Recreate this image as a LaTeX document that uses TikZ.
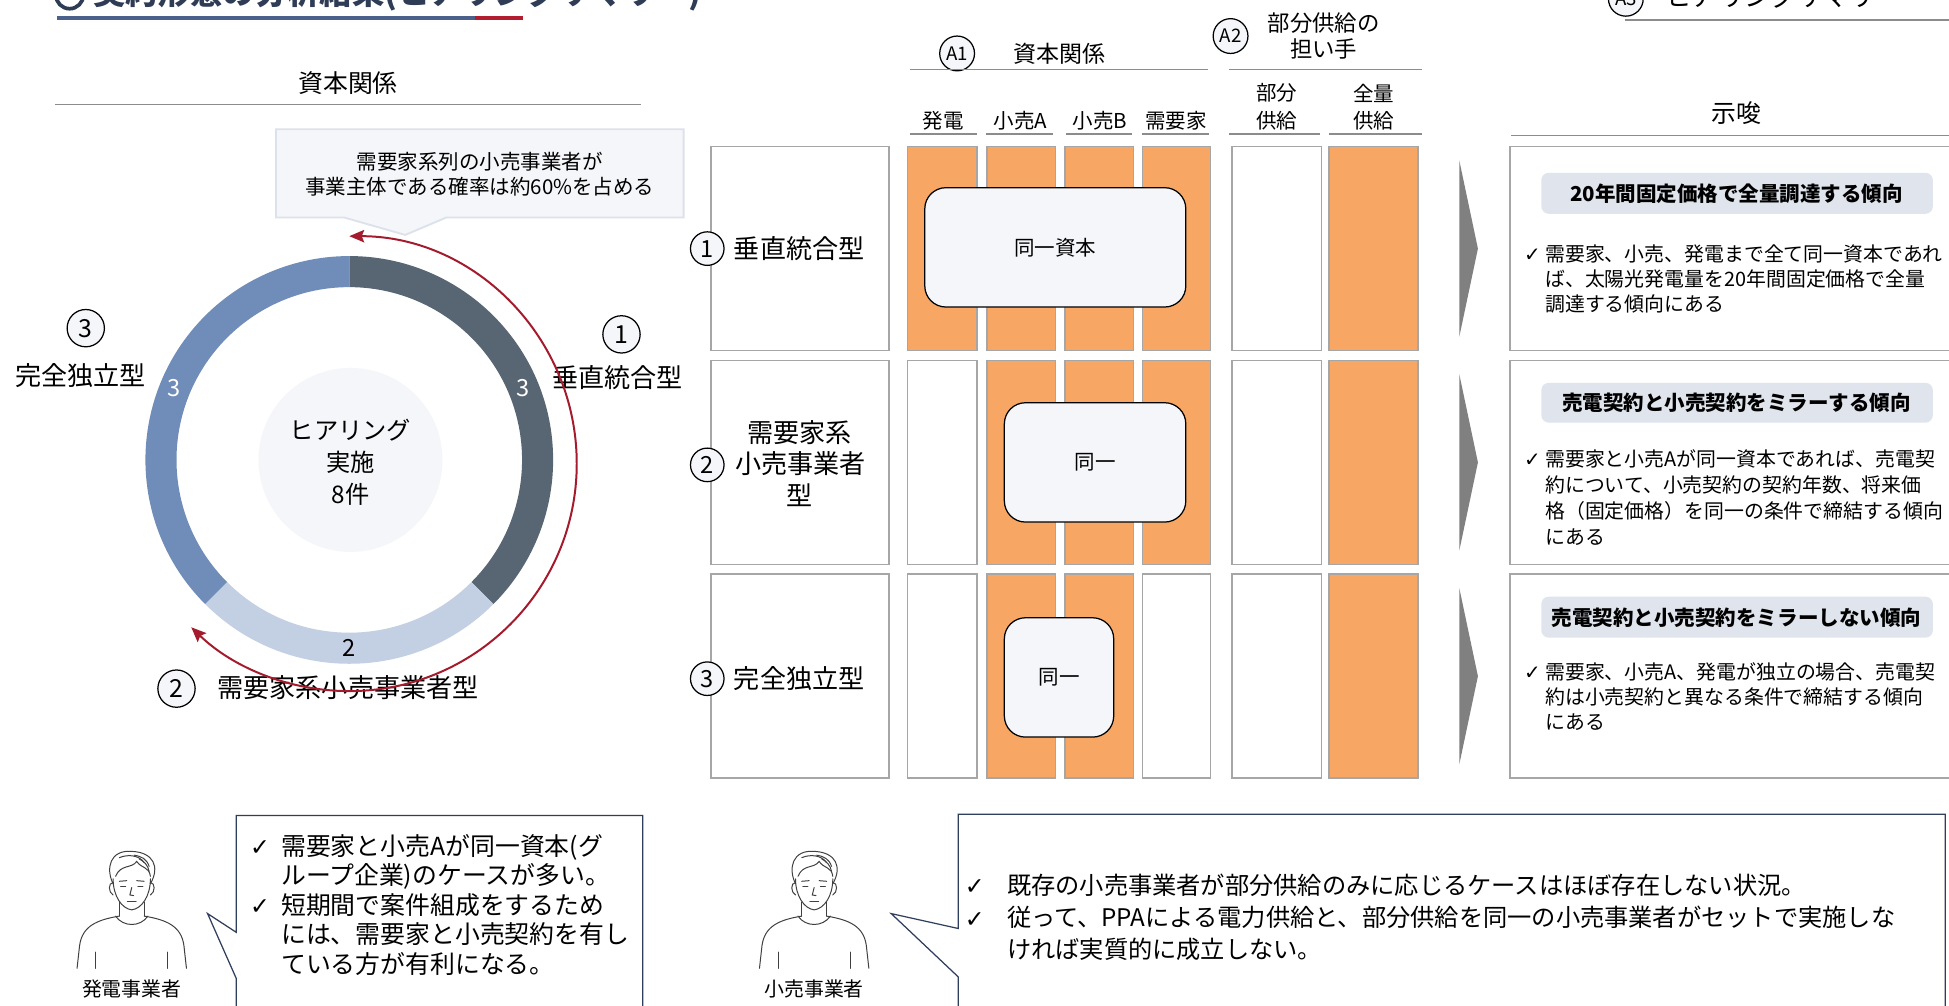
\documentclass[tikz,border=0pt]{standalone}
\usepackage{fontspec}
\setmainfont{Noto Sans CJK JP}
\newfontfamily\symfont{DejaVu Sans}
\usetikzlibrary{arrows.meta}

\definecolor{cOrange}{HTML}{F7A763}
\definecolor{cCellLine}{HTML}{A6A6A6}
\definecolor{cRule}{HTML}{8C8C8C}
\definecolor{cDark}{HTML}{586573}
\definecolor{cLight}{HTML}{C3CFE2}
\definecolor{cBlue}{HTML}{6F8DB8}
\definecolor{cRed}{HTML}{A31B2C}
\definecolor{cPale}{HTML}{F5F6F9}
\definecolor{cPaleEdge}{HTML}{DCE2EC}
\definecolor{cPill}{HTML}{DFE4ED}
\definecolor{cChev}{HTML}{808080}
\definecolor{cNavy}{HTML}{2F3E5C}
\definecolor{cTitle}{HTML}{2F3C56}
\definecolor{cTitleBlue}{HTML}{4B6189}
\definecolor{cTitleRed}{HTML}{B21E2F}

\newcommand\fsz[1]{\fontsize{#1}{#1}\selectfont}

\tikzset{
  cell/.style={draw=cCellLine, line width=1.3pt},
  rulel/.style={draw=cRule, line width=1.3pt},
  numc/.style={circle, draw=black, line width=1pt, fill=cPale, minimum size=30pt,
    inner sep=0pt, font=\fsz{20}},
  smallnum/.style={numc, minimum size=28pt, font=\fsz{15}},
  hdr/.style={inner sep=0pt, font=\fsz{18.5}},
  colhdr/.style={inner sep=0pt, font=\fsz{16.5}},
  rowlbl/.style={inner sep=0pt, font=\fsz{21}},
  samebox/.style={draw=black, line width=1pt, fill=cPale, rounded corners=17pt},
  pill/.style={fill=cPill, rounded corners=6pt},
  pilltext/.style={inner sep=0pt, font=\fsz{16.5}\bfseries},
  bodyline/.style={anchor=base west, inner sep=0pt, font=\fsz{16}},
  checkmk/.style={anchor=base west, inner sep=0pt, font=\symfont\fsz{16}},
  bubline/.style={anchor=base west, inner sep=0pt, font=\fsz{20}},
  bubcheck/.style={anchor=base west, inner sep=0pt, font=\symfont\fsz{19}},
  bubble/.style={draw=cNavy, line width=1pt, fill=white, line join=miter},
  chev/.style={fill=cChev},
  redarc/.style={cRed, line width=1.6pt,
    {Stealth[length=12pt, width=10pt, inset=2pt]}-{Stealth[length=12pt, width=10pt, inset=2pt]}}
}

% simple line-art figure; #1 = centre x, #2 = top of the head (y downwards)
\newcommand\drawperson[2]{%
\begin{scope}[shift={(#1,-#2)}, draw=black!75, line width=0.8pt, line cap=round]
  % face
  \draw (-15,-22) .. controls (-15,-36) and (-8,-46) .. (0,-47) .. controls (8,-46) and (15,-36) .. (15,-22);
  % hair
  \draw (-15,-26) .. controls (-21,-14) and (-18,2) .. (1,0) .. controls (17,-1) and (23,-12) .. (15,-26);
  \draw (-13,-20) .. controls (-9,-10) and (0,-14) .. (4,-8) .. controls (8,-14) and (14,-12) .. (15,-20);
  \draw (-10,-5) .. controls (-3,-2) and (6,-3) .. (10,-9);
  \draw (2,-3) .. controls (8,-4) and (12,-6) .. (14,-12);
  \draw (6,-6) .. controls (10,-8) and (13,-11) .. (14,-16);
  % ears
  \draw (-15,-25) .. controls (-19,-25) and (-19,-33) .. (-15,-35);
  \draw (15,-25) .. controls (19,-25) and (19,-33) .. (15,-35);
  % brows, eyes, nose, mouth
  \draw (-10,-24) -- (-4,-23.5);
  \draw (4,-23.5) -- (10,-24);
  \draw (-9,-28) -- (-5,-28);
  \draw (5,-28) -- (9,-28);
  \draw (0,-29) -- (-1.5,-35) -- (1.5,-35.5);
  \draw (-3.5,-40) -- (3.5,-40);
  % neck and collar
  \draw (-10,-41) -- (-10,-52);
  \draw (10,-41) -- (10,-52);
  \draw (-13,-52) .. controls (-7,-61) and (7,-61) .. (13,-52);
  % shoulders and arms
  \draw (-10,-52) .. controls (-28,-55) and (-40,-60) .. (-42,-76) -- (-44,-94);
  \draw (10,-52) .. controls (28,-55) and (40,-60) .. (42,-76) -- (44,-94);
  \draw (-29,-81) -- (-29,-94);
  \draw (29,-81) -- (29,-94);
\end{scope}}

\begin{document}
\begin{tikzpicture}[x=1pt, y=1pt]
\clip (0,0) rectangle (1568,-809);
\fill[white] (0,0) rectangle (1568,-809);

% ---------- page title (runs off the top edge) ----------
\draw[cTitle, line width=3pt] (56,4) circle[radius=11pt];
\node[anchor=base west, inner sep=0pt, text=cTitle, font=\fsz{26}\bfseries] (title) at (75,-3.5)
  {契約形態の分析結果(ヒアリングサマリー)};
\fill[cTitleBlue] (46,-12.5) rectangle (382,-16);
\fill[cTitleRed] (382,-12.5) rectangle (421,-16);

\draw[rulel] (1307,-16) -- (1568,-16);
\node[smallnum] (a3) at (1308,1) {A3};
\node[anchor=base west, inner sep=0pt, font=\fsz{21}] (a3txt) at (1340,-5) {ヒアリングサマリー};

% ---------- left: capital relations donut ----------
\node[inner sep=0pt, font=\fsz{20}] (capL) at (280,-67) {資本関係};
\draw[rulel] (44,-84) -- (516,-84);

\draw[draw=cPaleEdge, fill=cPale, line width=1.5pt, line join=miter]
  (222,-104) -- (550,-104) -- (550,-175) -- (359,-175) -- (326,-189) -- (277,-175) -- (222,-175) -- cycle;
\node[align=center, inner sep=0pt, font=\fontsize{16.5}{20}\selectfont] (callout) at (386,-140)
  {需要家系列の小売事業者が\\事業主体である確率は約60\%を占める};

\begin{scope}[shift={(281,-370)}]
  \fill[cDark] (90:164) arc[start angle=90, end angle=-45, radius=164pt]
    -- (-45:139) arc[start angle=-45, end angle=90, radius=139pt] -- cycle;
  \fill[cLight] (-45:164) arc[start angle=-45, end angle=-135, radius=164pt]
    -- (-135:139) arc[start angle=-135, end angle=-45, radius=139pt] -- cycle;
  \fill[cBlue] (-135:164) arc[start angle=-135, end angle=-270, radius=164pt]
    -- (90:139) arc[start angle=90, end angle=225, radius=139pt] -- cycle;
  \fill[cPale] (1,0) circle[radius=74pt];
\end{scope}
\node[align=center, inner sep=0pt, font=\fontsize{19.5}{25.5}\selectfont] (centre) at (282,-372)
  {ヒアリング\\実施\\8件};
\node[inner sep=0pt, text=white, font=\fsz{19}] (segA) at (421,-312) {3};
\node[inner sep=0pt, text=white, font=\fsz{19}] (segC) at (140,-312) {3};
\node[inner sep=0pt, font=\fsz{19}] (segB) at (281,-521) {2};

\node[numc] (d1) at (500,-269) {1};
\node[rowlbl] (d1t) at (497,-304) {垂直統合型};
\node[numc] (d3) at (69,-264) {3};
\node[rowlbl] (d3t) at (65,-302) {完全独立型};
\node[numc] (d2) at (142,-554) {2};
\node[rowlbl] (d2t) at (280,-553) {需要家系小売事業者型};

\begin{scope}[shift={(281,-373)}]
  \draw[redarc] (90:183) arc[start angle=90, end angle=-134, radius=183pt];
\end{scope}

% ---------- centre: matrix ----------
\node[smallnum] (A1) at (770,-43) {A1};
\node[hdr] (A1t) at (852,-43) {資本関係};
\draw[rulel] (732,-56) -- (972,-56);
\node[smallnum] (A2) at (990,-29) {A2};
\node[align=center, inner sep=0pt, font=\fontsize{18}{21}\selectfont] (A2t) at (1065,-29) {部分供給の\\担い手};
\draw[rulel] (989,-56) -- (1144,-56);

\node[colhdr] (h1) at (759,-97) {発電};
\node[colhdr] (h2) at (821,-97) {小売A};
\node[colhdr] (h3) at (885,-97) {小売B};
\node[colhdr] (h4) at (946,-97) {需要家};
\node[align=center, inner sep=0pt, font=\fontsize{16.5}{22}\selectfont] (h5) at (1027,-86) {部分\\供給};
\node[align=center, inner sep=0pt, font=\fontsize{16.5}{22}\selectfont] (h6) at (1105,-86) {全量\\供給};
\foreach \xa/\xb in {732/786, 793/847, 858/911, 919/973, 989/1062, 1069/1144}
  \draw[rulel] (\xa,-108) -- (\xb,-108);

% row frames
\foreach \ya/\yb in {118/282, 290/454, 462/626} {
  \draw[cell, fill=white] (572,-\ya) rectangle (715,-\yb);
  \draw[cell, fill=white] (1215,-\ya) rectangle (1580,-\yb);
  \fill[chev] (1174,-\ya-11) -- (1189,-\ya/2-\yb/2) -- (1174,-\yb+11) -- cycle;
}
% matrix cells: row 1
\foreach \xa/\xb/\fc in {730/786/cOrange, 794/849/cOrange, 857/912/cOrange, 919/974/cOrange, 991/1063/white, 1069/1141/cOrange}
  \draw[cell, fill=\fc] (\xa,-118) rectangle (\xb,-282);
% row 2
\foreach \xa/\xb/\fc in {730/786/white, 794/849/cOrange, 857/912/cOrange, 919/974/cOrange, 991/1063/white, 1069/1141/cOrange}
  \draw[cell, fill=\fc] (\xa,-290) rectangle (\xb,-454);
% row 3
\foreach \xa/\xb/\fc in {730/786/white, 794/849/cOrange, 857/912/cOrange, 919/974/white, 991/1063/white, 1069/1141/cOrange}
  \draw[cell, fill=\fc] (\xa,-462) rectangle (\xb,-626);

\draw[samebox] (744,-151) rectangle (954,-247);
\node[inner sep=0pt, font=\fsz{16.5}] (same1) at (849,-199) {同一資本};
\draw[samebox] (808,-324) rectangle (954,-420);
\node[inner sep=0pt, font=\fsz{16.5}] (same2) at (881,-372) {同一};
\draw[samebox] (808,-497) rectangle (896,-593);
\node[inner sep=0pt, font=\fsz{16.5}] (same3) at (852,-545) {同一};

% row labels
\node[rowlbl] (r1t) at (643,-200) {垂直統合型};
\node[numc, minimum size=27pt, font=\fsz{19}] (r1n) at (569,-200) {1};
\node[rowlbl] (r2a) at (643,-348) {需要家系};
\node[rowlbl] (r2b) at (644,-373) {小売事業者};
\node[rowlbl] (r2c) at (643,-398) {型};
\node[numc, minimum size=27pt, font=\fsz{19}] (r2n) at (569,-374) {2};
\node[rowlbl] (r3t) at (643,-546) {完全独立型};
\node[numc, minimum size=27pt, font=\fsz{19}] (r3n) at (569,-546) {3};

% ---------- right: implications ----------
\node[inner sep=0pt, font=\fsz{20}] (impl) at (1397,-91) {示唆};
\draw[rulel] (1216,-109) -- (1568,-109);

\fill[pill] (1240,-139) rectangle (1555,-172);
\node[pilltext] (p1) at (1397,-156) {20年間固定価格で全量調達する傾向};
\fill[pill] (1240,-308) rectangle (1555,-340);
\node[pilltext] (p2) at (1397,-324) {売電契約と小売契約をミラーする傾向};
\fill[pill] (1240,-480) rectangle (1555,-513);
\node[pilltext] (p3) at (1397,-497) {売電契約と小売契約をミラーしない傾向};

\node[checkmk] (c1) at (1226,-210) {✓};
\foreach \t [count=\i] in {{需要家、小売、発電まで全て同一資本であれ}, {ば、太陽光発電量を20年間固定価格で全量}, {調達する傾向にある}}
  \node[bodyline] (b1l\i) at (1243,-210-20.5*\i+20.5) {\t};
\node[checkmk] (c2) at (1226,-375) {✓};
\foreach \t [count=\i] in {{需要家と小売Aが同一資本であれば、売電契}, {約について、小売契約の契約年数、将来価}, {格（固定価格）を同一の条件で締結する傾向}, {にある}}
  \node[bodyline] (b2l\i) at (1243,-375-21*\i+21) {\t};
\node[checkmk] (c3) at (1226,-547) {✓};
\foreach \t [count=\i] in {{需要家、小売A、発電が独立の場合、売電契}, {約は小売契約と異なる条件で締結する傾向}, {にある}}
  \node[bodyline] (b3l\i) at (1243,-547-20*\i+20) {\t};

% ---------- bottom: interview comments ----------
\drawperson{106}{685}
\node[inner sep=0pt, font=\fsz{16}] (who1) at (106,-796) {発電事業者};
\draw[bubble] (190,-750) -- (190,-656) -- (517,-656) -- (517,-830) -- (190,-830) -- (190,-787) -- (167,-735) -- cycle;
\node[bubcheck] (k1) at (201,-688) {✓};
\node[bubcheck] (k2) at (201,-736) {✓};
\foreach \t [count=\i] in {{需要家と小売Aが同一資本(グ}, {ループ企業)のケースが多い。}, {短期間で案件組成をするため}, {には、需要家と小売契約を有し}, {ている方が有利になる。}}
  \node[bubline] (q1l\i) at (226,-688-23.8*\i+23.8) {\t};

\drawperson{655}{685}
\node[inner sep=0pt, font=\fsz{16}] (who2) at (655,-796) {小売事業者};
\draw[bubble] (771,-747) -- (771,-655) -- (1565,-655) -- (1565,-830) -- (771,-830) -- (771,-786) -- (717,-735) -- cycle;
\node[bubcheck] (k3) at (776,-720) {✓};
\node[bubcheck] (k4) at (776,-746) {✓};
\foreach \t [count=\i] in {{既存の小売事業者が部分供給のみに応じるケースはほぼ存在しない状況。}, {従って、PPAによる電力供給と、部分供給を同一の小売事業者がセットで実施しな}, {ければ実質的に成立しない。}}
  \node[bubline, font=\fsz{19.5}] (q2l\i) at (810,-720-25.5*\i+25.5) {\t};
\end{tikzpicture}
\end{document}
